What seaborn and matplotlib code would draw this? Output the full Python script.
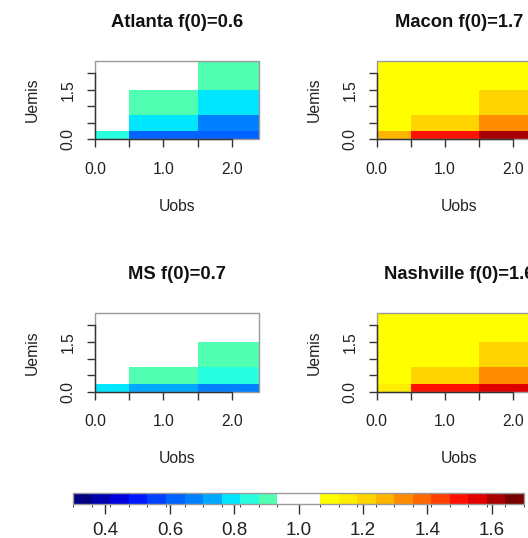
import numpy as np
import matplotlib
matplotlib.use("Agg")
import matplotlib.pyplot as plt
import seaborn as sns
from matplotlib.colors import ListedColormap, BoundaryNorm
from matplotlib.patches import Rectangle

# ---------------- data ----------------
uobs = [0.0, 1.0, 2.0]
uemis = [0.0, 0.5, 1.0, 2.0]
# rows = Uemis, columns = Uobs
atlanta = [[0.85, 0.62, 0.61],
           [1.00, 0.79, 0.67],
           [1.00, 0.90, 0.79],
           [1.00, 1.00, 0.90]]
macon = [[1.27, 1.50, 1.62],
         [1.09, 1.21, 1.33],
         [1.09, 1.09, 1.21],
         [1.09, 1.09, 1.09]]
ms = [[0.79, 0.72, 0.66],
      [1.00, 0.90, 0.85],
      [1.00, 1.00, 0.90],
      [1.00, 1.00, 1.00]]
nashville = [[1.15, 1.50, 1.56],
             [1.09, 1.21, 1.33],
             [1.09, 1.09, 1.21],
             [1.09, 1.09, 1.09]]
titles = ["Atlanta f(0)=0.6", "Macon f(0)=1.7", "MS f(0)=0.7", "Nashville f(0)=1.6"]
xtick_vals = [0.0, 0.5, 1.0, 1.5, 2.0]
xtick_labels = ["0.0", "", "1.0", "", "2.0"]
ytick_vals = [0.0, 0.5, 1.0, 1.5, 2.0]
ytick_labels = ["0.0", "", "", "1.5", ""]
cbar_ticks = [0.4, 0.6, 0.8, 1.0, 1.2, 1.4, 1.6]
cbar_labels = ["0.4", "0.6", "0.8", "1.0", "1.2", "1.4", "1.6"]

blues = ["#000080", "#0000AE", "#0000DC", "#0018FF", "#0040FF", "#0062FF",
         "#0080FF", "#00A8FF", "#00E6FF", "#28FFE0", "#50FFB2"]
reds = ["#FFFF00", "#FFEE00", "#FFD400", "#FFB400", "#FF8C00", "#FF6800",
        "#FF4000", "#FF1000", "#E00000", "#A80000", "#7A0000"]

# ---------------- style ----------------
sns.set_style("white")
plt.rcParams["font.family"] = ["Liberation Sans", "DejaVu Sans"]

bounds = np.concatenate([np.linspace(0.3, 0.9333, 12), np.linspace(1.0667, 1.7, 12)])
cmap = ListedColormap(blues + ["#FFFFFF"] + reds)
norm = BoundaryNorm(bounds, cmap.N)


def edges(v):
    v = np.asarray(v, dtype=float)
    mid = (v[1:] + v[:-1]) / 2
    return np.concatenate([[v[0] - (v[1] - v[0]) / 2], mid, [v[-1] + (v[-1] - v[-2]) / 2]])


fig = plt.figure(figsize=(5.28, 5.38), dpi=100)
W, H = 528.0, 538.0
# axes pixel boxes: (left, top, right, bottom)
boxes = [(95, 60.7, 259, 139.3), (376.7, 60.7, 540.7, 139.3),
         (95, 312.7, 259, 392), (376.7, 312.7, 540.7, 392)]
datas = [atlanta, macon, ms, nashville]

for (l, t, r, b), d, ttl in zip(boxes, datas, titles):
    ax = fig.add_axes([l / W, 1 - b / H, (r - l) / W, (b - t) / H])
    ax.pcolormesh(edges(uobs), edges(uemis), np.asarray(d), cmap=cmap, norm=norm,
                  shading="flat")
    ax.set_xlim(0, 2.4)
    ax.set_ylim(0, 2.38)
    for s in ax.spines.values():
        s.set_visible(False)
    ax.add_patch(Rectangle((0, 0), 1, 1, transform=ax.transAxes, fill=False,
                           edgecolor="#9a9a9a", lw=1.0, clip_on=False, zorder=5))
    for side in ["bottom", "left"]:
        ax.spines[side].set_visible(True)
        ax.spines[side].set_color("#333333")
        ax.spines[side].set_linewidth(1.0)
        ax.spines[side].set_bounds(0, 2)
        ax.spines[side].set_zorder(6)
    ax.set_xticks(xtick_vals)
    ax.set_xticklabels(xtick_labels)
    ax.set_yticks(ytick_vals)
    ax.set_yticklabels(ytick_labels, rotation=90, va="center")
    ax.tick_params(axis="x", direction="out", length=6, width=1.0,
                   color="#333333", labelsize=11.3, labelcolor="#222222", pad=10,
                   bottom=True)
    ax.tick_params(axis="y", direction="out", length=6, width=1.0,
                   color="#333333", labelsize=11.3, labelcolor="#222222", pad=8,
                   left=True)
    ax.set_xlabel("Uobs", fontsize=11.3, color="#222222", labelpad=16)
    ax.set_ylabel("Uemis", fontsize=11.3, color="#222222", labelpad=15)
    ax.set_title(ttl, fontsize=13.2, fontweight="bold", color="#111111", pad=24)

cax = fig.add_axes([73.3 / W, 1 - 504.3 / H, 450.7 / W, 11 / H])
sm = plt.cm.ScalarMappable(cmap=cmap, norm=norm)
cb = fig.colorbar(sm, cax=cax, orientation="horizontal", boundaries=bounds,
                  spacing="proportional")
cb.set_ticks(cbar_ticks)
cb.set_ticklabels(cbar_labels)
cb.outline.set_edgecolor("#9a9a9a")
cb.outline.set_linewidth(1.0)
cax.tick_params(direction="out", length=7, width=1.0, color="#333333",
                labelsize=13.5, labelcolor="#222222", pad=6)

fig.savefig("out.png", dpi=100)
